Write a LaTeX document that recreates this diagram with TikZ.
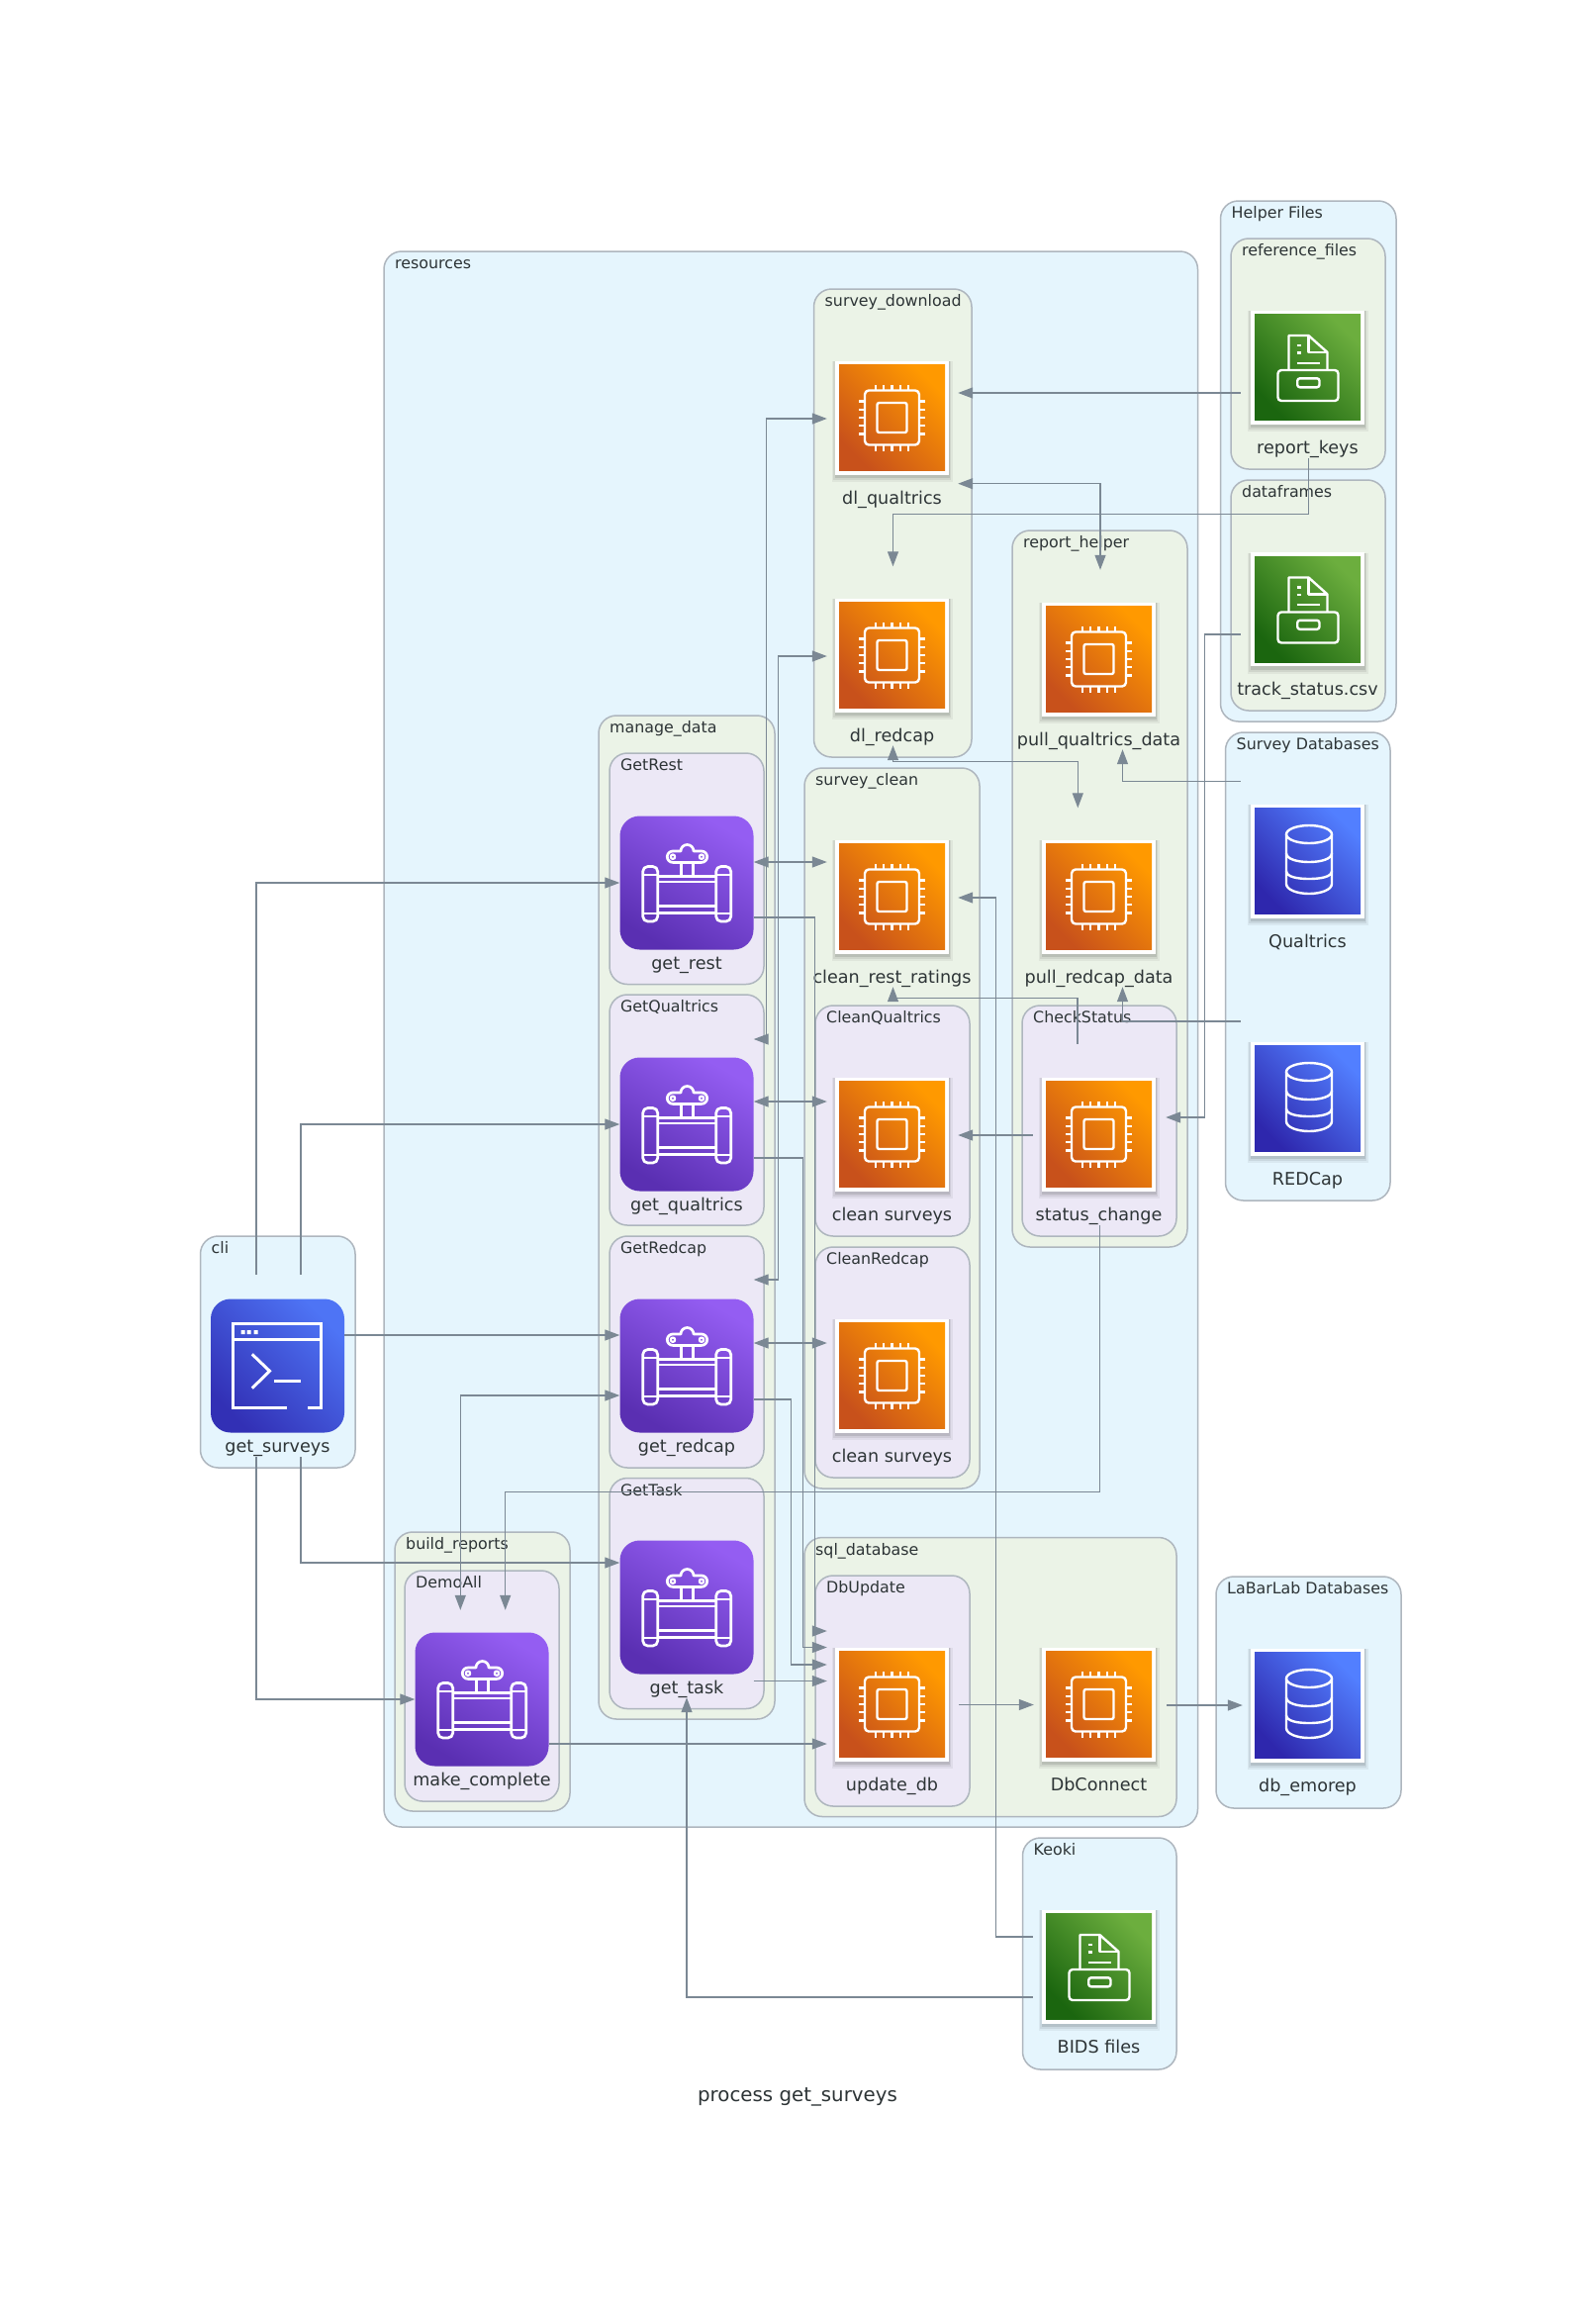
\documentclass[tikz,border=0pt]{standalone}
\usepackage{fontspec}
\setmainfont{DejaVu Sans}
\usetikzlibrary{arrows.meta,calc}
\definecolor{cblue}{HTML}{E5F5FD}
\definecolor{cgreen}{HTML}{EBF3E7}
\definecolor{cpurple}{HTML}{ECE8F6}
\definecolor{cborder}{HTML}{AEB6BE}
\definecolor{edgecol}{HTML}{7B8894}
\definecolor{txt}{HTML}{2D3436}
\definecolor{oD}{HTML}{C8511B}\definecolor{oL}{HTML}{FF9900}
\definecolor{bD}{HTML}{2E27AD}\definecolor{bL}{HTML}{527FFF}
\definecolor{tD}{HTML}{3230B5}\definecolor{tL}{HTML}{4E74F5}
\definecolor{gD}{HTML}{1B660F}\definecolor{gL}{HTML}{6CAE3E}
\definecolor{pD}{HTML}{5A2FB2}\definecolor{pL}{HTML}{945DF2}
\tikzset{
  >={Triangle[length=15pt,width=11pt]},
  clus/.style={draw=cborder,line width=1.5pt,rounded corners=18pt},
  clabel/.style={anchor=base west,inner sep=0pt,text=txt,font=\fontsize{15.85pt}{18pt}\selectfont},
  nlabel/.style={anchor=base,inner sep=0pt,text=txt,font=\fontsize{17.6pt}{20pt}\selectfont},
  sqnode/.style={rectangle,fill=white,inner sep=0pt,minimum size=115pt},
  rdnode/.style={rectangle,inner sep=0pt,minimum size=135pt},
  glyph/.style={draw=white,line width=2.4pt,line join=round},
  conn/.style={draw=edgecol,line width=1.25pt}
}
\def\rdang{-30}
% cluster: name, left, top, right, bottom, fill, label
\newcommand\clu[7]{%
  \draw[clus,fill=#6] (#2,#3) rectangle (#4,#5);
  \node[clabel] (#1) at (#2+11,#3+17.5) {#7};
}
% square icon: name, x, y, dark, light, glyph macro, label
\newcommand\sqi[7]{%
  \begin{scope}[shift={(#2,#3)}]
    \fill[black,opacity=.05] (-61,-57) rectangle (61,65);
    \fill[black,opacity=.07] (-59.5,-57) rectangle (59.5,63);
    \fill[black,opacity=.10] (-58,-57) rectangle (58,61);
  \end{scope}
  \node[sqnode] (#1) at (#2,#3) {};
  \begin{scope}[shift={(#2,#3)}]
    \shade[top color=#5,bottom color=#4,shading angle=-45] (-53.5,-53.5) rectangle (53.5,53.5);
    #6
  \end{scope}
  \node[nlabel] (#1-label) at (#2,#3+87) {#7};
}
% rounded icon: name, x, y, dark, light, glyph macro, label
\newcommand\rdi[7]{%
  \node[rdnode] (#1) at (#2,#3) {};
  \begin{scope}[shift={(#2,#3)}]
    \shade[rounded corners=20pt,top color=#5,bottom color=#4,shading angle=\rdang] (-67.5,-67.5) rectangle (67.5,67.5);
    #6
  \end{scope}
  \node[nlabel] (#1-label) at (#2,#3+87) {#7};
}
\newcommand\chipg{%
  \draw[glyph,rounded corners=4pt] (-27.5,-27.5) rectangle (27.5,27.5);
  \draw[glyph,rounded corners=2pt] (-15,-15) rectangle (15,15);
  \foreach \o in {-16.5,-8.25,0,8.25,16.5}{
    \draw[glyph,line join=miter] (\o,-28) -- (\o,-33.5) (\o,28) -- (\o,33.5) (-28,\o) -- (-33.5,\o) (28,\o) -- (33.5,\o);
  }%
}
\newcommand\dbg{%
  \begin{scope}[shift={(1.5,-2)}]
  \draw[glyph] (0,-25) ellipse [x radius=23,y radius=9];
  \draw[glyph] (-23,-25) -- (-23,25) .. controls (-23,31) and (-12,35) .. (0,35) .. controls (12,35) and (23,31) .. (23,25) -- (23,-25);
  \draw[glyph] (-23,-6) .. controls (-23,0) and (-12,3) .. (0,3) .. controls (12,3) and (23,0) .. (23,-6);
  \draw[glyph] (-23,12) .. controls (-23,18) and (-12,20) .. (0,20) .. controls (12,20) and (23,18) .. (23,12);
  \end{scope}%
}
\newcommand\fileg{%
  \draw[glyph] (-19,3) -- (-19,-32) -- (1,-32) -- (20,-15) -- (20,3);
  \draw[glyph] (1,-32) -- (1,-15) -- (20,-15);
  \draw[glyph] (-11,-22) -- (-6.5,-22) (-11,-14.5) -- (-6.5,-14.5) (-11,-4.3) -- (12.7,-4.3);
  \draw[glyph,rounded corners=3.5pt] (-30,3) -- (-30,34) -- (31,34) -- (31,3) -- cycle;
  \draw[glyph,rounded corners=2.5pt] (-10.3,11.3) rectangle (12,20.3);%
}
\newcommand\termg{%
  \draw[glyph,line width=3pt,line join=miter] (9.3,42.7) -- (-44.7,42.7) -- (-44.7,-42.3) -- (44.3,-42.3) -- (44.3,42.7) -- (30.3,42.7);
  \draw[glyph,line width=3pt] (-44.7,-26.7) -- (44.3,-26.7);
  \fill[white] (-37,-36) rectangle ++(4,4) (-31,-36) rectangle ++(4,4) (-24,-36) rectangle ++(4,4);
  \draw[glyph,line width=3pt,line join=miter] (-25.7,-11.7) -- (-8,5.3) -- (-25.7,22.7);
  \draw[glyph,line width=3pt] (-3.3,15.7) -- (23.3,15.7);%
}
\newcommand\pipeg{%
  \draw[glyph,line width=2.7pt,rounded corners=5pt] (-44.3,-16.5) rectangle (-29.3,39);
  \draw[glyph,line width=2.7pt,rounded corners=5pt] (29.7,-16.5) rectangle (44.7,39);
  \draw[glyph,line width=2.7pt] (-44.3,-8) -- (-29.3,-8) (-44.3,31) -- (-29.3,31) (29.7,-8) -- (44.7,-8) (29.7,31) -- (44.7,31);
  \draw[glyph,line width=2.7pt] (-29.3,-6.5) -- (29.7,-6.5) (-29.3,-1) -- (29.7,-1) (-29.3,23.5) -- (29.7,23.5) (-29.3,30.5) -- (29.7,30.5);
  \draw[glyph,line width=2.7pt] (-5.3,-21) -- (-5.3,-7) (6.3,-21) -- (6.3,-7);
  \draw[glyph,line width=2.7pt] (-14,-32) -- (-6,-32) arc[start angle=180,end angle=360,radius=6.5] -- (15,-32) arc[start angle=270,end angle=450,radius=5.7] -- (-14,-20.6) arc[start angle=90,end angle=270,radius=5.7];
  \draw[glyph,line width=2.2pt] (-14,-26.3) circle [radius=2.2] (15,-26.3) circle [radius=2.2];%
}
\begin{document}
\begin{tikzpicture}[x=1pt,y=-1pt]
\useasboundingbox (0,0) rectangle (1613,2327);
\fill[white] (0,0) rectangle (1613,2327);
% clusters
\clu{c-resources}{388}{254}{1210.5}{1846}{cblue}{resources}
\clu{c-cli}{202.5}{1249}{359}{1483}{cblue}{cli}
\clu{c-helper}{1233.5}{203}{1411}{729}{cblue}{Helper Files}
\clu{c-reference}{1244}{241}{1400}{474}{cgreen}{reference\_files}
\clu{c-dataframes}{1244}{485}{1400}{718}{cgreen}{dataframes}
\clu{c-surveydb}{1238.5}{740}{1405}{1213}{cblue}{Survey Databases}
\clu{c-labarlab}{1229}{1593}{1416}{1827}{cblue}{LaBarLab Databases}
\clu{c-keoki}{1033.5}{1857}{1189}{2091}{cblue}{Keoki}
\clu{c-download}{822.5}{292}{982}{765}{cgreen}{survey\_download}
\clu{c-helperr}{1023}{536}{1200}{1260}{cgreen}{report\_helper}
\clu{c-clean}{813}{776}{990}{1504}{cgreen}{survey\_clean}
\clu{c-cleanq}{824}{1016}{980}{1249}{cpurple}{CleanQualtrics}
\clu{c-cleanr}{824}{1260}{980}{1493}{cpurple}{CleanRedcap}
\clu{c-check}{1033}{1016}{1189}{1249}{cpurple}{CheckStatus}
\clu{c-manage}{605}{723}{783}{1737}{cgreen}{manage\_data}
\clu{c-getrest}{616}{761}{772}{994.5}{cpurple}{GetRest}
\clu{c-getqual}{616}{1005}{772}{1238}{cpurple}{GetQualtrics}
\clu{c-getred}{616}{1249}{772}{1483}{cpurple}{GetRedcap}
\clu{c-gettask}{616}{1493.5}{772}{1726.5}{cpurple}{GetTask}
\clu{c-build}{399}{1548}{576}{1830}{cgreen}{build\_reports}
\clu{c-demo}{409}{1587}{565}{1820}{cpurple}{DemoAll}
\clu{c-sql}{813}{1553.5}{1189}{1835.5}{cgreen}{sql\_database}
\clu{c-dbupdate}{824}{1592}{980}{1825}{cpurple}{DbUpdate}
% icons
\def\rdang{-45}
\rdi{g}{280.5}{1380}{tD}{tL}{\termg}{get\_surveys}
\def\rdang{-30}
\rdi{rest}{694}{892}{pD}{pL}{\pipeg}{get\_rest}
\rdi{qual}{694}{1136}{pD}{pL}{\pipeg}{get\_qualtrics}
\rdi{redcap}{694}{1380}{pD}{pL}{\pipeg}{get\_redcap}
\rdi{task}{694}{1624}{pD}{pL}{\pipeg}{get\_task}
\rdi{make}{487}{1717}{pD}{pL}{\pipeg}{make\_complete}
\sqi{dlq}{901.5}{422}{oD}{oL}{\chipg}{dl\_qualtrics}
\sqi{dlr}{901.5}{662}{oD}{oL}{\chipg}{dl\_redcap}
\sqi{crr}{901.5}{906}{oD}{oL}{\chipg}{clean\_rest\_ratings}
\sqi{cq}{901.5}{1146}{oD}{oL}{\chipg}{clean surveys}
\sqi{cr}{901.5}{1390}{oD}{oL}{\chipg}{clean surveys}
\sqi{upd}{901.5}{1722}{oD}{oL}{\chipg}{update\_db}
\sqi{dbc}{1110.5}{1722}{oD}{oL}{\chipg}{DbConnect}
\sqi{pq}{1110.5}{666}{oD}{oL}{\chipg}{pull\_qualtrics\_data}
\sqi{pr}{1110.5}{906}{oD}{oL}{\chipg}{pull\_redcap\_data}
\sqi{sc}{1110.5}{1146}{oD}{oL}{\chipg}{status\_change}
\sqi{rk}{1321.5}{371}{gD}{gL}{\fileg}{report\_keys}
\sqi{ts}{1321.5}{615.5}{gD}{gL}{\fileg}{track\_status.csv}
\sqi{qu}{1321.5}{870}{bD}{bL}{\dbg}{Qualtrics}
\sqi{rc}{1321.5}{1110}{bD}{bL}{\dbg}{REDCap}
\sqi{emo}{1321.5}{1723}{bD}{bL}{\dbg}{db\_emorep}
\sqi{bids}{1110.5}{1987}{gD}{gL}{\fileg}{BIDS files}
\node[anchor=base,inner sep=0pt,text=txt,font=\fontsize{19.8pt}{24pt}\selectfont] (title) at (806,2123) {process get\_surveys};
% connectors
\draw[conn,->] ([shift={(-21.5,-92)}]g.center) |- (rest.west);
\draw[conn,->] ([shift={(23.5,-92)}]g.center) |- (qual.west);
\draw[conn,->] ([shift={(0,-31)}]g.east) -- ([shift={(0,-31)}]redcap.west);
\draw[conn,->] ([shift={(23.5,92)}]g.center) |- ([shift={(0,-45)}]task.west);
\draw[conn,->] ([shift={(-21.5,92)}]g.center) |- (make.west);
\draw[conn,<->] ([shift={(0,-21)}]rest.east) -- ([shift={(-8,-35)}]crr.west);
\draw[conn,<->] ([shift={(0,-23)}]qual.east) -- ([shift={(-8,-33)}]cq.west);
\draw[conn,<->] ([shift={(0,-23)}]redcap.east) -- ([shift={(-8,-33)}]cr.west);
\draw[conn,<->] ([shift={(-8,1)}]dlq.west) -- ++(-61,0) |- ([shift={(0,-86)}]qual.east);
\draw[conn,<->] ([shift={(-8,1)}]dlr.west) -- ++(-49,0) |- ([shift={(0,-87)}]redcap.east);
\draw[conn,->] ([shift={(0,35)}]rest.east) -- ++(61.5,0) |- ([shift={(-8,-74)}]upd.west);
\draw[conn,->] ([shift={(0,34)}]qual.east) -- ++(49.5,0) |- ([shift={(-8,-57.5)}]upd.west);
\draw[conn,->] ([shift={(0,34)}]redcap.east) -- ++(37.5,0) |- ([shift={(-8,-40)}]upd.west);
\draw[conn,->] ([shift={(0,74.5)}]task.east) -- ([shift={(-8,-23.5)}]upd.west);
\draw[conn,->] ([shift={(0,45)}]make.east) -- ([shift={(-8,40)}]upd.west);
\draw[conn,->] ([shift={(10,0.5)}]upd.east) -- ([shift={(-8,0.5)}]dbc.west);
\draw[conn,->] ([shift={(11,1)}]dbc.east) -- ([shift={(-8,0)}]emo.west);
\draw[conn,->] ([shift={(-10,26)}]rk.west) -- ([shift={(9,-25)}]dlq.east);
\draw[conn,->] ([shift={(1,34.5)}]rk.south) -- ++(0,56) -| ([shift={(1,-32)}]dlr.north);
\draw[conn,<->] ([shift={(9,66.7)}]dlq.east) -| ([shift={(1.5,-32.5)}]pq.north);
\draw[conn,<->] ([shift={(1,33.5)}]dlr.south) -- ++(0,16) -| ([shift={(-21.2,-32)}]pr.north);
\draw[conn,->] ([shift={(-10,-80.5)}]qu.west) -| ([shift={(24,33.5)}]pq.south);
\draw[conn,->] ([shift={(-10,-78)}]rc.west) -| ([shift={(24,33.5)}]pr.south);
\draw[conn,->] ([shift={(-10,25.5)}]ts.west) -- ++(-36.5,0) |- ([shift={(10,-17)}]sc.east);
\draw[conn,->] ([shift={(-21.5,-33.5)}]sc.north) -- ++(0,-46.5) -| ([shift={(1,33.5)}]crr.south);
\draw[conn,->] ([shift={(-9,1)}]sc.west) -- ([shift={(9,1)}]cq.east);
\draw[conn,->] ([shift={(1.2,34.5)}]sc.south) -- ++(0,269) -| ([shift={(23.7,-22.5)}]make.north);
\draw[conn,<->] ([shift={(-21.7,-22.5)}]make.north) |- ([shift={(0,30)}]redcap.west);
\draw[conn,->] ([shift={(-9,-30)}]bids.west) -- ++(-37,0) |- ([shift={(9,1)}]crr.east);
\draw[conn,->] ([shift={(-9,31)}]bids.west) -| ([shift={(0,23.5)}]task.south);
\end{tikzpicture}
\end{document}
